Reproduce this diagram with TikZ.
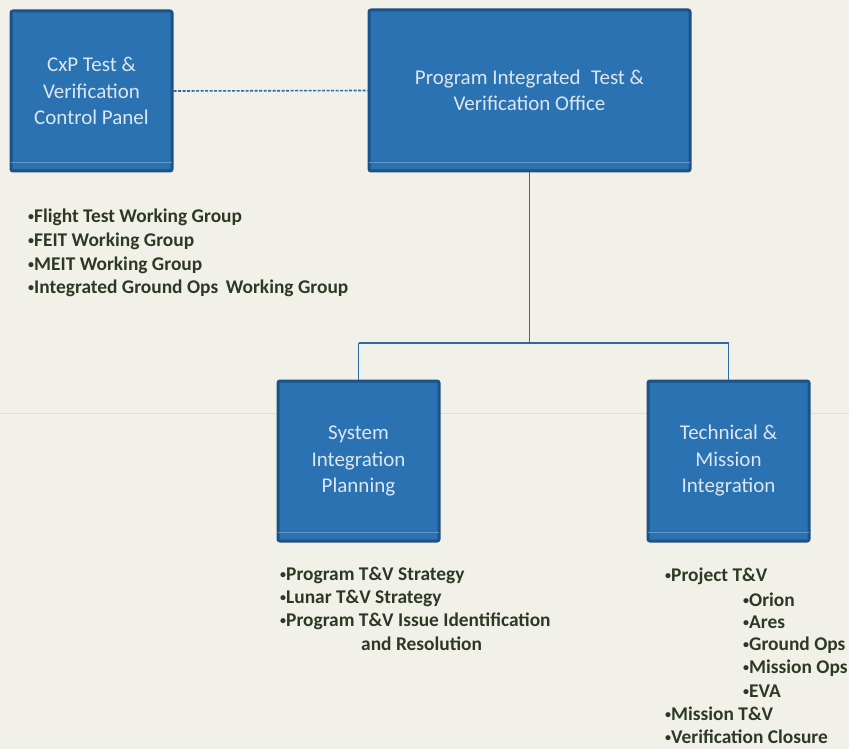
\documentclass[tikz,border=0pt]{standalone}
\usepackage{fontspec}
\setmainfont{Carlito}
\definecolor{bgc}{HTML}{F1F1EA}
\definecolor{boxfill}{HTML}{2B72B2}
\definecolor{boxline}{HTML}{1D5286}
\definecolor{boxtext}{HTML}{DCE6EE}
\definecolor{listtext}{HTML}{2C3A24}
\definecolor{linkc}{HTML}{2A6AA6}
\newcommand\bul{\raisebox{1.8pt}{\fontsize{12}{12}\selectfont•}}
\begin{document}
\begin{tikzpicture}[x=1pt,y=-1pt,
  orgbox/.style={draw=boxline,line width=3pt,fill=boxfill,rounded corners=2pt,
    text=boxtext,align=center,font=\fontsize{21}{26.5}\selectfont,inner sep=0pt},
  sheen/.style={draw=boxfill!75!white,line width=0.7pt},
  item/.style={anchor=west,text=listtext,font=\fontsize{19.4}{20}\selectfont\bfseries,inner sep=0pt},
  link/.style={draw=linkc,line width=1.6pt}]
\fill[bgc] (0,0) rectangle (849,749);
\useasboundingbox (0,0) rectangle (849,749);
\draw[gray!25,line width=0.6pt] (0,413) -- (849,413);
% boxes
\node[orgbox,minimum width=161pt,minimum height=160pt] (cxp) at (91.5,91) {CxP Test \&\\Verification\\Control Panel};
\node[orgbox,minimum width=321pt,minimum height=161pt] (pito) at (529.5,90.5) {Program Integrated\; Test \&\\Verification Office};
\node[orgbox,minimum width=161pt,minimum height=160pt] (sip) at (358.5,461) {System\\Integration\\Planning};
\node[orgbox,minimum width=161pt,minimum height=160pt] (tmi) at (728.5,461) {Technical \&\\Mission\\Integration};
\foreach \b in {cxp,pito,sip,tmi}{
  \draw[sheen] ([xshift=1.5pt,yshift=10pt]\b.south west) -- ([xshift=-1.5pt,yshift=10pt]\b.south east);
}
% connectors
\draw[link,dashed,dash pattern=on 3pt off 1.5pt] (cxp.east) -- (pito.west);
\coordinate (junc) at (pito.south |- 0,343);
\coordinate (jl) at (sip.north |- 0,343);
\coordinate (jr) at (tmi.north |- 0,343);
\draw[link] (pito.south) -- (junc);
\draw[link] (jl) -- (jr);
\draw[link] (jl) -- (sip.north);
\draw[link] (jr) -- (tmi.north);
% lists
\node[item] (l1a) at (28,217) {\bul Flight Test Working Group};
\node[item] (l1b) at (28,241) {\bul FEIT Working Group};
\node[item] (l1c) at (28,265) {\bul MEIT Working Group};
\node[item] (l1d) at (28,288) {\bul Integrated Ground Ops\, Working Group};
\node[item] (l2a) at (280,575) {\bul Program T\&V Strategy};
\node[item] (l2b) at (280,598) {\bul Lunar T\&V Strategy};
\node[item] (l2c) at (280,621) {\bul Program T\&V Issue Identification};
\node[item] (l2d) at (361,644) {and Resolution};
\node[item] (l3a) at (665,576) {\bul Project T\&V};
\node[item] (l3b) at (743,600) {\bul Orion};
\node[item] (l3c) at (743,622) {\bul Ares};
\node[item] (l3d) at (743,645) {\bul Ground Ops};
\node[item] (l3e) at (743,668) {\bul Mission Ops};
\node[item] (l3f) at (743,691) {\bul EVA};
\node[item] (l3g) at (665,714) {\bul Mission T\&V};
\node[item] (l3h) at (665,737) {\bul Verification Closure};
\end{tikzpicture}
\end{document}
